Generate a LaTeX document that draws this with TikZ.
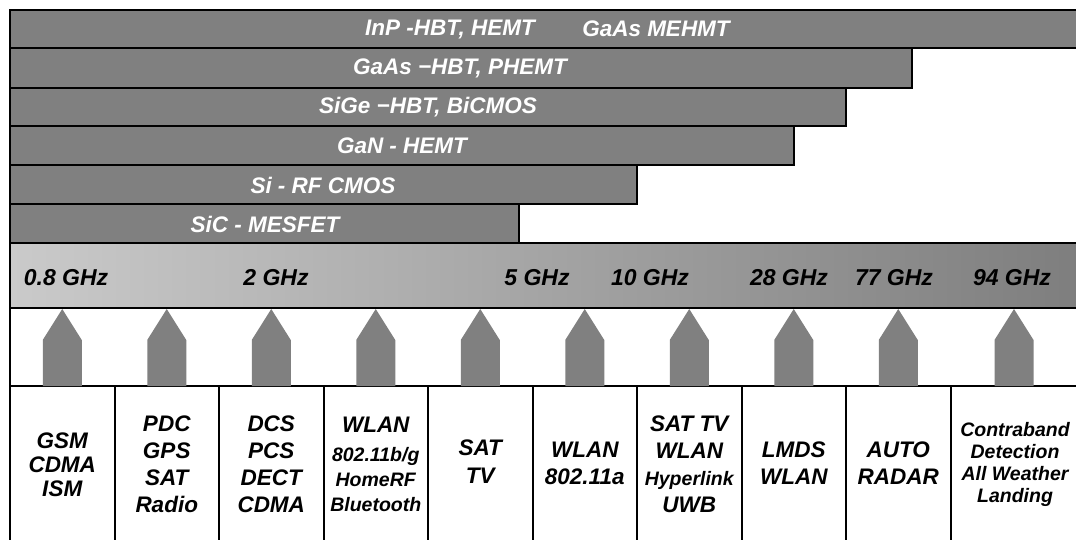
\documentclass[tikz,border=0pt]{standalone}
\usepackage{fontspec}
\setmainfont{Liberation Sans}
\definecolor{barg}{RGB}{128,128,128}
\definecolor{bandL}{RGB}{202,202,202}
\definecolor{bandR}{RGB}{126,126,126}
\begin{document}
\begin{tikzpicture}[x=1pt,y=-1pt,line join=miter,
  bar/.style={draw=black,line width=2pt,fill=barg},
  bartext/.style={text=white,inner sep=0pt,font=\fontsize{22.5}{25}\selectfont\bfseries\itshape},
  freqtext/.style={text=black,inner sep=0pt,font=\fontsize{23}{25}\selectfont\bfseries\itshape},
  appbox/.style={draw=black,line width=2pt,fill=white},
  apptext/.style={text=black,inner sep=0pt,align=center,font=\fontsize{22.5}{27}\selectfont\bfseries\itshape},
  uparrow/.style={fill=barg,draw=none}]
\useasboundingbox (0,0) rectangle (1076,539);
\fill[white] (0,0) rectangle (1076,539);
% technology bars
\path[bar] (10,10) rectangle (1080,48);
\path[bar] (10,48) rectangle (912,88);
\path[bar] (10,88) rectangle (846,126);
\path[bar] (10,126) rectangle (794,165);
\path[bar] (10,165) rectangle (637,204);
\path[bar] (10,204) rectangle (519,243);
\node[bartext] (inp) at (450,29) {InP -HBT, HEMT};
\node[bartext] (gaasm) at (656,29) {GaAs MEHMT};
\node[bartext] (gaas) at (460,68) {GaAs −HBT, PHEMT};
\node[bartext] (sige) at (428,107) {SiGe −HBT, BiCMOS};
\node[bartext] (gan) at (402,146) {GaN - HEMT};
\node[bartext] (si) at (323,185) {Si - RF CMOS};
\node[bartext] (sic) at (265,224) {SiC - MESFET};
% frequency band
\shade[left color=bandL,right color=bandR] (10,243) rectangle (1080,308);
\draw[line width=2pt] (1080,243) -- (10,243) -- (10,308) -- (1080,308);
\node[freqtext] (f1) at (66,278) {0.8 GHz};
\node[freqtext] (f2) at (276,278) {2 GHz};
\node[freqtext] (f3) at (537,278) {5 GHz};
\node[freqtext] (f4) at (650,278) {10 GHz};
\node[freqtext] (f5) at (789,278) {28 GHz};
\node[freqtext] (f6) at (894,278) {77 GHz};
\node[freqtext] (f7) at (1012,278) {94 GHz};
\draw[line width=2pt] (10,308) -- (10,386);
% application boxes
\foreach \i/\a/\b in {1/10/114.5,2/114.5/219,3/219/323.5,4/323.5/428,5/428/532.5,6/532.5/637,7/637/741.5,8/741.5/846,9/846/950.5,10/950.5/1080}{
  \path[appbox] (\a,386) rectangle (\b,545);
}
\foreach \c in {62.25,166.75,271.25,375.75,480.25,584.75,689.25,793.75,898.25,1014}{
  \fill[uparrow] (\c-19.5,386) -- (\c-19.5,340) -- (\c,309) -- (\c+19.5,340) -- (\c+19.5,386) -- cycle;
}
\node[apptext,font=\fontsize{22.5}{24}\selectfont\bfseries\itshape] (a1) at (62.25,465) {GSM\\CDMA\\ISM};
\node[apptext] (a2) at (166.75,464) {PDC\\GPS\\SAT\\Radio};
\node[apptext] (a3) at (271.25,464) {DCS\\PCS\\DECT\\CDMA};
\node[apptext,font=\fontsize{22.5}{25}\selectfont\bfseries\itshape] (a4) at (375.75,464) {WLAN\\[4pt]{\fontsize{19.5}{22}\selectfont 802.11b/g}\\{\fontsize{19.5}{22}\selectfont HomeRF}\\{\fontsize{19.5}{22}\selectfont Bluetooth}};
\node[apptext,font=\fontsize{22.5}{28}\selectfont\bfseries\itshape] (a5) at (480.25,462) {SAT\\TV};
\node[apptext] (a6) at (584.75,463) {WLAN\\802.11a};
\node[apptext] (a7) at (689.25,464) {SAT TV\\WLAN\\{\fontsize{19.5}{22}\selectfont Hyperlink}\\UWB};
\node[apptext] (a8) at (793.75,463) {LMDS\\WLAN};
\node[apptext] (a9) at (898.25,463) {AUTO\\RADAR};
\node[apptext,font=\fontsize{19.5}{22}\selectfont\bfseries\itshape] (a10) at (1015,464) {Contraband\\Detection\\All Weather\\Landing};
\end{tikzpicture}
\end{document}
